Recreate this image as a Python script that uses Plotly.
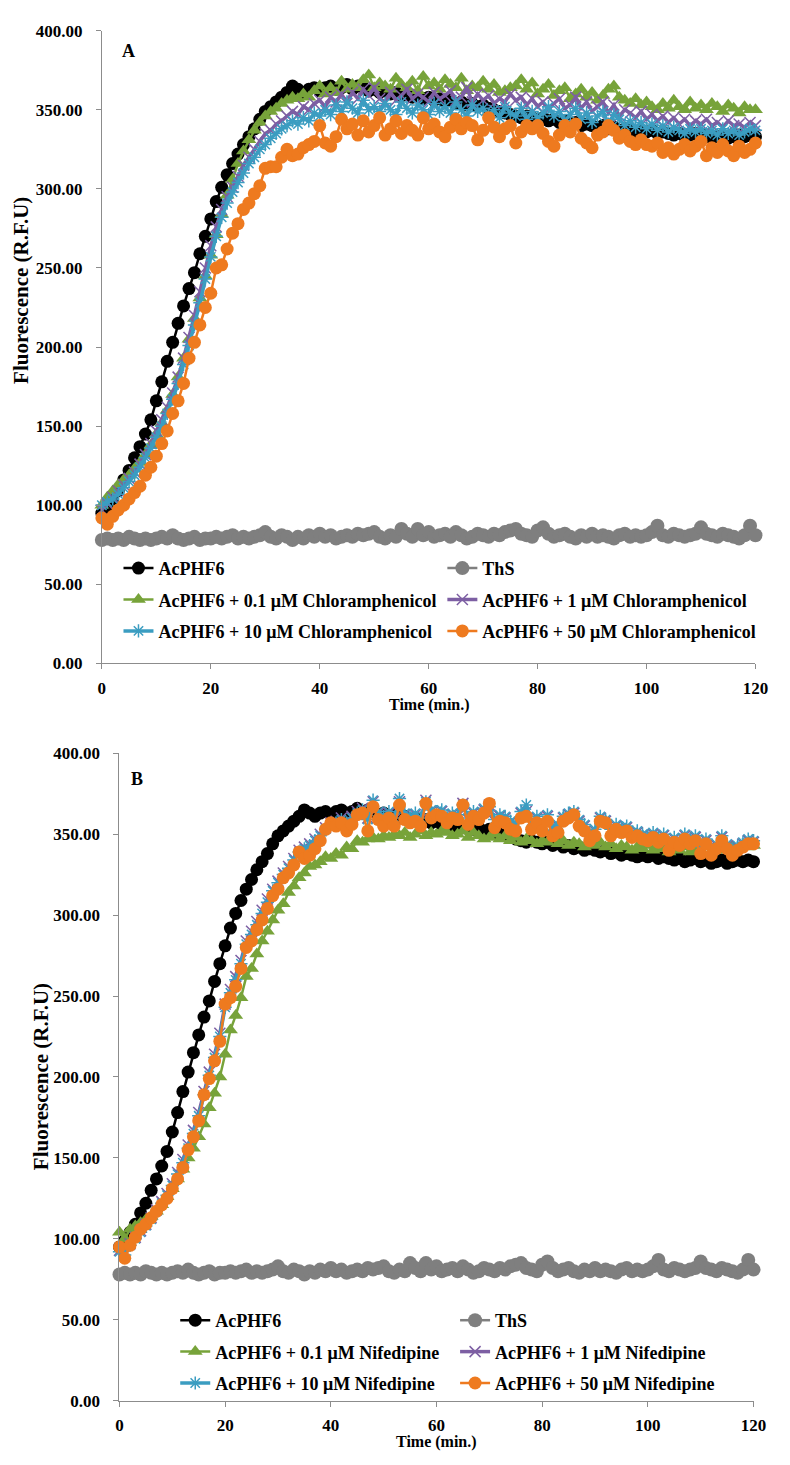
import plotly.graph_objects as go

W, H = 790, 1465
FONT = "Liberation Serif"

time_min = list(range(0, 121))

acphf6 = [
    95, 99, 104, 109, 116, 122, 130, 137, 145, 154,
    166, 178, 191, 203, 215, 226, 237, 247, 259, 270,
    281, 292, 301, 309, 316, 322, 328, 333, 338, 344,
    349, 352, 355, 358, 361, 365, 363, 361, 363, 364,
    362, 364, 365, 363, 364, 366, 363, 365, 364, 362,
    363, 361, 362, 360, 361, 359, 360, 358, 359, 357,
    358, 356, 357, 355, 356, 354, 355, 353, 354, 352,
    353, 351, 350, 349, 348, 347, 346, 345, 346, 345,
    344, 345, 343, 344, 342, 343, 341, 342, 340, 341,
    340, 339, 340, 338, 339, 337, 338, 337, 336, 337,
    336, 337, 335, 336, 335, 334, 335, 333, 334, 335,
    333, 334, 332, 333, 334, 332, 333, 334, 333, 334,
    333]

ths = [
    78, 79, 78, 79, 78, 80, 79, 78, 79, 78,
    79, 80, 79, 81, 79, 78, 79, 80, 78, 79,
    79, 80, 79, 80, 81, 79, 80, 79, 80, 81,
    83, 80, 79, 81, 80, 78, 80, 79, 81, 80,
    82, 80, 81, 79, 80, 81, 80, 82, 81, 82,
    83, 80, 79, 81, 80, 85, 82, 80, 85, 81,
    83, 80, 81, 82, 80, 83, 81, 79, 80, 82,
    81, 80, 82, 81, 83, 84, 85, 82, 81, 80,
    84, 86, 82, 80, 81, 82, 80, 79, 81, 80,
    82, 80, 81, 80, 79, 81, 82, 80, 81, 80,
    81, 83, 87, 81, 80, 82, 81, 80, 81, 82,
    86, 82, 81, 80, 82, 81, 80, 79, 81, 87,
    81]

# Chloramphenicol series (panel A)
chl_01 = [
    100, 105, 109, 113, 116, 119, 123, 127, 132, 138,
    145, 152, 160, 170, 181, 193, 205, 218, 231, 245,
    258, 271, 284, 296, 306, 316, 324, 331, 337, 342,
    346, 349, 351, 354, 356, 358, 357, 360, 358, 362,
    365, 360, 364, 361, 368, 363, 366, 364, 369, 372,
    364, 367, 365, 363, 370, 366, 364, 368, 362, 371,
    365, 367, 363, 369, 366, 364, 370, 362, 365, 364,
    368, 363, 366, 361, 362, 364, 365, 369, 363, 367,
    360, 363, 366, 359, 362, 364, 357, 360, 363, 358,
    361, 356, 359, 363, 365, 358, 356, 354, 357, 353,
    355, 352, 350, 354, 351, 356, 352, 350, 355, 351,
    353, 350, 354, 352, 349, 353, 351, 348, 352, 350,
    350]

chl_1 = [
    97, 101, 105, 109, 113, 117, 121, 126, 132, 139,
    147, 154, 162, 171, 181, 193, 206, 220, 235, 250,
    264, 276, 287, 295, 301, 308, 315, 320, 325, 330,
    335, 337, 341, 343, 346, 349, 347, 352, 350, 354,
    356, 352, 358, 355, 360, 354, 361, 357, 363, 359,
    364, 357, 355, 361, 356, 359, 363, 357, 360, 358,
    355, 361, 357, 359, 362, 356, 358, 364, 355, 360,
    356, 359, 354, 357, 355, 360, 356, 358, 353, 357,
    352, 355, 350, 354, 357, 351, 353, 358, 351, 355,
    349, 352, 355, 348, 353, 346, 350, 348, 345, 349,
    344, 347, 343, 346, 342, 345, 341, 344, 340, 343,
    341, 344, 340, 342, 339, 343, 340, 341, 339, 342,
    340]

chl_10 = [
    100, 102, 104, 107, 111, 115, 119, 124, 130, 136,
    143, 150, 158, 167, 177, 189, 201, 214, 228, 243,
    257, 270, 282, 291, 298, 304, 310, 316, 320, 325,
    328, 332, 335, 338, 340, 343, 341, 345, 343, 348,
    346, 350, 347, 353, 349, 355, 351, 348, 356, 350,
    352, 349, 354, 350, 347, 355, 351, 348, 353, 350,
    347, 354, 349, 352, 348, 355, 350, 346, 353, 349,
    351, 347, 350, 345, 352, 348, 346, 351, 344, 349,
    345, 348, 352, 346, 349, 343, 347, 351, 344, 348,
    342, 346, 349, 341, 347, 344, 340, 343, 339, 342,
    338, 341, 337, 340, 336, 339, 337, 335, 338, 336,
    338, 335, 337, 334, 338, 335, 337, 334, 336, 338,
    337]

chl_50 = [
    92, 88, 93, 97, 100, 104, 108, 112, 119, 124,
    131, 139, 147, 158, 166, 177, 193, 203, 214, 225,
    234, 250, 252, 262, 272, 278, 287, 291, 297, 302,
    313, 314, 314, 320, 325, 321, 322, 326, 328, 330,
    340, 329, 327, 333, 344, 338, 341, 334, 343, 336,
    340, 345, 334, 338, 343, 335, 340, 337, 334, 345,
    338, 341, 336, 333, 339, 344, 338, 342, 340, 331,
    337, 345, 339, 333, 338, 340, 329, 336, 340, 338,
    340, 335, 330, 327, 334, 340, 336, 341, 332, 329,
    326, 334, 336, 340, 337, 332, 334, 330, 328, 331,
    328, 327, 329, 323, 326, 322, 325, 328, 324, 327,
    330, 321, 326, 323, 328, 324, 321, 327, 323, 325,
    329]

# Nifedipine series (panel B)
nif_01 = [
    104, 100, 106, 108, 110, 112, 114, 117, 121, 126,
    131, 137, 143, 150, 156, 163, 171, 181, 190, 200,
    214, 229, 238, 249, 262, 267, 276, 284, 290, 297,
    303, 307, 314, 318, 323, 326, 330, 331, 333, 336,
    335, 338, 337, 342, 341, 346, 345, 347, 348, 347,
    349, 348, 350, 349, 351, 348, 350, 352, 349, 351,
    350, 352, 351, 349, 350, 352, 348, 351, 349, 347,
    348, 350, 347, 349, 346, 348, 345, 347, 346, 344,
    346, 345, 347, 344, 346, 343, 345, 344, 342, 344,
    343, 345, 342, 344, 341, 343, 342, 340, 342, 341,
    343, 340, 342, 341, 339, 341, 340, 342, 339, 341,
    340, 342, 339, 341, 343, 340, 342, 341, 343, 342,
    343]

nif_1 = [
    93, 91, 97, 101, 105, 109, 113, 118, 123, 128,
    134, 141, 149, 158, 167, 178, 191, 203, 214, 227,
    245, 254, 262, 272, 284, 290, 296, 303, 310, 316,
    321, 326, 330, 335, 340, 342, 344, 347, 350, 354,
    357, 358, 360, 358, 361, 364, 366, 360, 370, 363,
    360, 363, 359, 370, 362, 360, 362, 359, 371, 364,
    363, 364, 360, 362, 361, 369, 359, 363, 361, 365,
    368, 358, 361, 360, 357, 356, 363, 364, 357, 360,
    355, 361, 354, 355, 360, 362, 363, 358, 355, 350,
    352, 360, 358, 352, 355, 353, 354, 350, 351, 349,
    348, 350, 347, 349, 344, 347, 345, 349, 346, 348,
    341, 346, 340, 343, 348, 343, 340, 342, 344, 346,
    345]

nif_10 = [
    92, 90, 96, 100, 104, 108, 112, 117, 122, 127,
    133, 140, 147, 156, 165, 176, 189, 201, 212, 225,
    243, 252, 260, 270, 282, 288, 294, 301, 308, 315,
    320, 325, 329, 334, 339, 341, 343, 346, 349, 353,
    356, 357, 359, 357, 360, 363, 365, 359, 371, 364,
    361, 364, 360, 372, 363, 361, 363, 360, 370, 365,
    364, 365, 361, 363, 362, 368, 360, 364, 362, 366,
    367, 359, 362, 361, 358, 357, 364, 368, 358, 361,
    356, 362, 355, 356, 361, 363, 364, 359, 356, 351,
    353, 361, 359, 353, 356, 354, 355, 351, 352, 350,
    349, 351, 348, 350, 345, 348, 346, 350, 347, 349,
    342, 347, 341, 344, 349, 344, 341, 343, 345, 347,
    346]

nif_50 = [
    95, 88, 96, 101, 106, 109, 113, 117, 121, 125,
    131, 137, 144, 155, 163, 173, 189, 199, 210, 222,
    245, 249, 256, 267, 280, 284, 291, 297, 304, 312,
    316, 323, 326, 331, 339, 335, 337, 341, 346, 353,
    357, 355, 357, 352, 356, 362, 363, 352, 367, 359,
    355, 360, 355, 368, 359, 357, 358, 355, 369, 360,
    362, 361, 357, 360, 359, 368, 356, 361, 359, 363,
    369, 354, 358, 357, 353, 352, 360, 361, 353, 357,
    352, 358, 349, 351, 358, 360, 362, 355, 352, 346,
    349, 358, 357, 349, 353, 351, 352, 348, 349, 347,
    346, 348, 345, 347, 340, 345, 343, 347, 344, 346,
    338, 344, 337, 341, 346, 341, 337, 340, 342, 344,
    344]

y_ticks = [0, 50, 100, 150, 200, 250, 300, 350, 400]
x_ticks = [0, 20, 40, 60, 80, 100, 120]

BLACK = "#000000"
GRAY = "#7f7f7f"
GREEN = "#77a33a"
PURPLE = "#7d5fa3"
BLUE = "#3b9dc1"
ORANGE = "#ee7a1f"

# (legend text, values, colour, marker symbol, marker size, legend column)
panel_a = [
    ("AcPHF6", acphf6, BLACK, "circle", 13, 0),
    ("ThS", ths, GRAY, "circle", 14, 1),
    ("AcPHF6 + 0.1 μM Chloramphenicol", chl_01, GREEN, "triangle-up", 13, 0),
    ("AcPHF6 + 1 μM Chloramphenicol", chl_1, PURPLE, "x-thin-open", 11, 1),
    ("AcPHF6 + 10 μM Chloramphenicol", chl_10, BLUE, "asterisk-open", 11, 0),
    ("AcPHF6 + 50 μM Chloramphenicol", chl_50, ORANGE, "circle", 13, 1),
]
panel_b = [
    ("AcPHF6", acphf6, BLACK, "circle", 13, 0),
    ("ThS", ths, GRAY, "circle", 14, 1),
    ("AcPHF6 + 0.1 μM Nifedipine", nif_01, GREEN, "triangle-up", 13, 0),
    ("AcPHF6 + 1 μM Nifedipine", nif_1, PURPLE, "x-thin-open", 11, 1),
    ("AcPHF6 + 10 μM Nifedipine", nif_10, BLUE, "asterisk-open", 11, 0),
    ("AcPHF6 + 50 μM Nifedipine", nif_50, ORANGE, "circle", 13, 1),
]

fig = go.Figure()


def add_panel(series, xa, ya, legends, tag):
    for i, (name, vals, col, sym, size, column) in enumerate(series):
        open_sym = sym.endswith("open")
        fig.add_trace(go.Scatter(
            x=time_min, y=vals, name=name, mode="lines+markers",
            xaxis=xa, yaxis=ya, cliponaxis=False,
            legend=legends[column], legendgroup=f"{tag}{i}",
            line=dict(color=col, width=3.5 if open_sym else 2.5),
            marker=dict(symbol=sym, size=size, color=col,
                        line=dict(color=col, width=1.5 if open_sym else 0)),
        ))


add_panel(panel_a, "x", "y", ["legend", "legend2"], "a")
add_panel(panel_b, "x2", "y2", ["legend3", "legend4"], "b")


def px_x(p):
    return p / W


def px_y(p):
    return 1 - p / H


axis_common = dict(
    showline=True, linecolor="#8c8c8c", linewidth=1,
    ticks="outside", ticklen=5, tickcolor="#8c8c8c",
    showgrid=False, zeroline=False,
    tickfont=dict(family=FONT, size=17, color="black", weight="bold"),
)

fig.update_layout(
    width=W, height=H,
    margin=dict(l=0, r=0, t=0, b=0),
    paper_bgcolor="white", plot_bgcolor="white",
    showlegend=True,
    xaxis=dict(domain=[px_x(100), px_x(768)], range=[0, 120],
               tickvals=x_ticks, anchor="y", ticklabelstandoff=4, **axis_common),
    yaxis=dict(domain=[px_y(663), px_y(22)], range=[0, 400],
               tickvals=y_ticks, tickformat=".2f", anchor="x",
               ticklabelstandoff=10, **axis_common),
    xaxis2=dict(domain=[px_x(118), px_x(766)], range=[0, 120],
                tickvals=x_ticks, anchor="y2", ticklabelstandoff=4, **axis_common),
    yaxis2=dict(domain=[px_y(1410), px_y(754)], range=[0, 400],
                tickvals=y_ticks, tickformat=".2f", anchor="x2",
                ticklabelstandoff=10, **axis_common),
)

legend_common = dict(
    xanchor="left", yanchor="top", orientation="v",
    bgcolor="rgba(0,0,0,0)", borderwidth=0, tracegroupgap=5,
    font=dict(family=FONT, size=18, color="black", weight="bold"),
    itemwidth=30,
)
fig.update_layout(
    legend=dict(x=px_x(117), y=px_y(548), **legend_common),
    legend2=dict(x=px_x(448), y=px_y(548), **legend_common),
    legend3=dict(x=px_x(175), y=px_y(1310), **legend_common),
    legend4=dict(x=px_x(461), y=px_y(1310), **legend_common),
)

label_font = dict(family=FONT, size=16, color="black", weight="bold")
ylabel_font = dict(family=FONT, size=21, color="black", weight="bold")
annotations = [
    dict(text="A", x=px_x(127), y=px_y(43), font=dict(family=FONT, size=18, color="black", weight="bold")),
    dict(text="B", x=px_x(136), y=px_y(780), font=dict(family=FONT, size=18, color="black", weight="bold")),
    dict(text="Time (min.)", x=px_x(435), y=px_y(705), font=label_font),
    dict(text="Time (min.)", x=px_x(442), y=px_y(1452), font=label_font),
    dict(text="Fluorescence (R.F.U)", x=px_x(18), y=px_y(285), textangle=-90, font=ylabel_font),
    dict(text="Fluorescence (R.F.U)", x=px_x(38), y=px_y(1082), textangle=-90, font=ylabel_font),
]
for a in annotations:
    fig.add_annotation(xref="paper", yref="paper", showarrow=False,
                       xanchor="center", yanchor="middle", **a)

fig.write_html("out.html")
